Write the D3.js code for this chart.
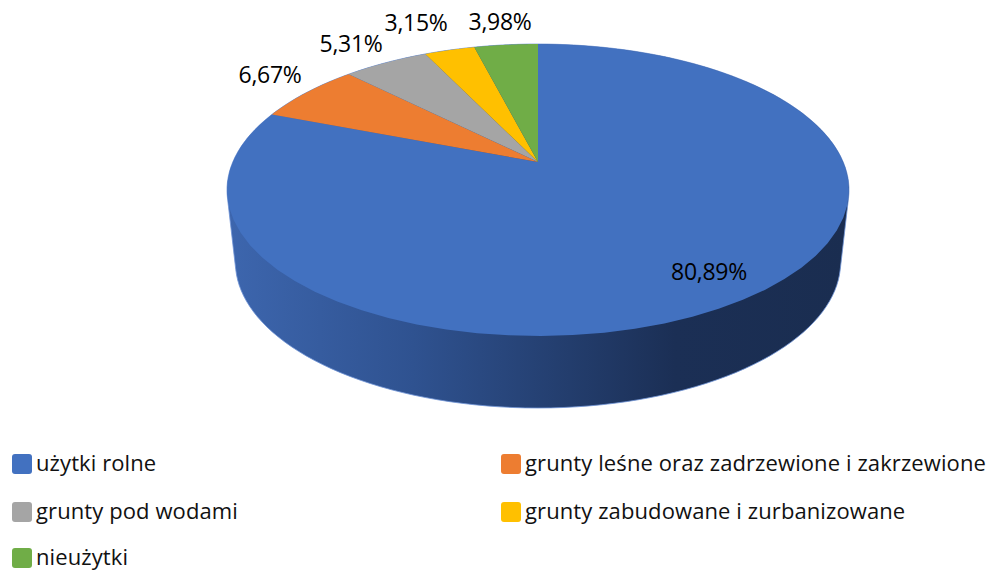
<!DOCTYPE html>
<html>
<head>
<meta charset="utf-8">
<script src="https://cdn.jsdelivr.net/npm/d3@7"></script>
<style>
  body { margin: 0; background: #fff; }
  text { font-family: "Open Sans", "Noto Sans", sans-serif; }
</style>
</head>
<body>
<div id="chart"></div>
<script>
const categories = [
  "użytki rolne",
  "grunty leśne oraz zadrzewione i zakrzewione",
  "grunty pod wodami",
  "grunty zabudowane i zurbanizowane",
  "nieużytki",
];
const values = [80.89, 6.67, 5.31, 3.15, 3.98];
const labels = ["80,89%", "6,67%", "5,31%", "3,15%", "3,98%"];
const colors = ["#4271c0", "#ed7d31", "#a5a5a5", "#ffc000", "#70ad47"];

const width = 987;
const height = 571;

//pie in perspective, k is how much the far edge shrinks
const top3d = { cx: 538, cy: 162, rx: 305.2, ry: 140.6, k: 0.192 };
const bottom3d = { cx: 538, cy: 234, rx: 297, ry: 140.6, k: 0.192 };

function project(p, angle, r = 1) {
  const u = r * Math.sin(angle);
  const v = -r * Math.cos(angle);
  const w = 1 - p.k * v;
  return [p.cx + (p.rx * u) / w, p.cy + (p.ry * v) / w];
}

const svg = d3
  .select("#chart")
  .append("svg")
  .attr("width", width)
  .attr("height", height)
  .style("display", "block");

const grad = svg
  .append("defs")
  .append("linearGradient")
  .attr("id", "wall")
  .attr("gradientUnits", "userSpaceOnUse")
  .attr("x1", 227)
  .attr("x2", 849)
  .attr("y1", 0)
  .attr("y2", 0);
grad.append("stop").attr("offset", 0).attr("stop-color", "#3d66ae");
grad.append("stop").attr("offset", 0.3).attr("stop-color", "#2f5290");
grad.append("stop").attr("offset", 0.72).attr("stop-color", "#1b2f55");
grad.append("stop").attr("offset", 1).attr("stop-color", "#1a2d50");

const circle = d3.range(0, 361, 2).map((d) => (d * Math.PI) / 180);

//side wall is the hull of both rims
const hull = d3.polygonHull(
  circle.flatMap((a) => [project(top3d, a), project(bottom3d, a)])
);
svg
  .append("path")
  .attr("d", d3.line()(hull) + "Z")
  .attr("fill", "url(#wall)")
  .attr("stroke", "#6f93d6")
  .attr("stroke-width", 0.8);

//slices
const pie = d3.pie().sort(null);
const arcs = pie(values);

svg
  .append("g")
  .selectAll("path")
  .data(arcs)
  .join("path")
  .attr("fill", (d, i) => colors[i])
  .attr("d", (d) => {
    const steps = d3.range(0, 61).map((i) => d.startAngle + ((d.endAngle - d.startAngle) * i) / 60);
    return d3.line()([[top3d.cx, top3d.cy], ...steps.map((a) => project(top3d, a))]) + "Z";
  });

//data labels
const labelPos = [
  [709, 272],
  [270, 75],
  [351, 44],
  [416, 23],
  [500, 22],
];

svg
  .append("g")
  .selectAll("text")
  .data(labels)
  .join("text")
  .attr("x", (d, i) => labelPos[i][0])
  .attr("y", (d, i) => labelPos[i][1])
  .attr("dy", "0.35em")
  .attr("text-anchor", "middle")
  .attr("font-size", 23)
  .attr("letter-spacing", -0.3)
  .attr("fill", "#000")
  .text((d) => d);

//legend
const legendPos = [
  [12, 464],
  [501, 464],
  [12, 512],
  [501, 512],
  [12, 558],
];

const legend = svg
  .append("g")
  .selectAll("g")
  .data(categories)
  .join("g")
  .attr("transform", (d, i) => `translate(${legendPos[i][0]},${legendPos[i][1]})`);

legend
  .append("rect")
  .attr("x", 0)
  .attr("y", -10)
  .attr("width", 20)
  .attr("height", 20)
  .attr("rx", 3)
  .attr("fill", (d, i) => colors[i]);

legend
  .append("text")
  .attr("x", 24)
  .attr("dy", "0.3em")
  .attr("font-size", 22)
  .attr("letter-spacing", 0.1)
  .attr("fill", "#111")
  .text((d) => d);
</script>
</body>
</html>
